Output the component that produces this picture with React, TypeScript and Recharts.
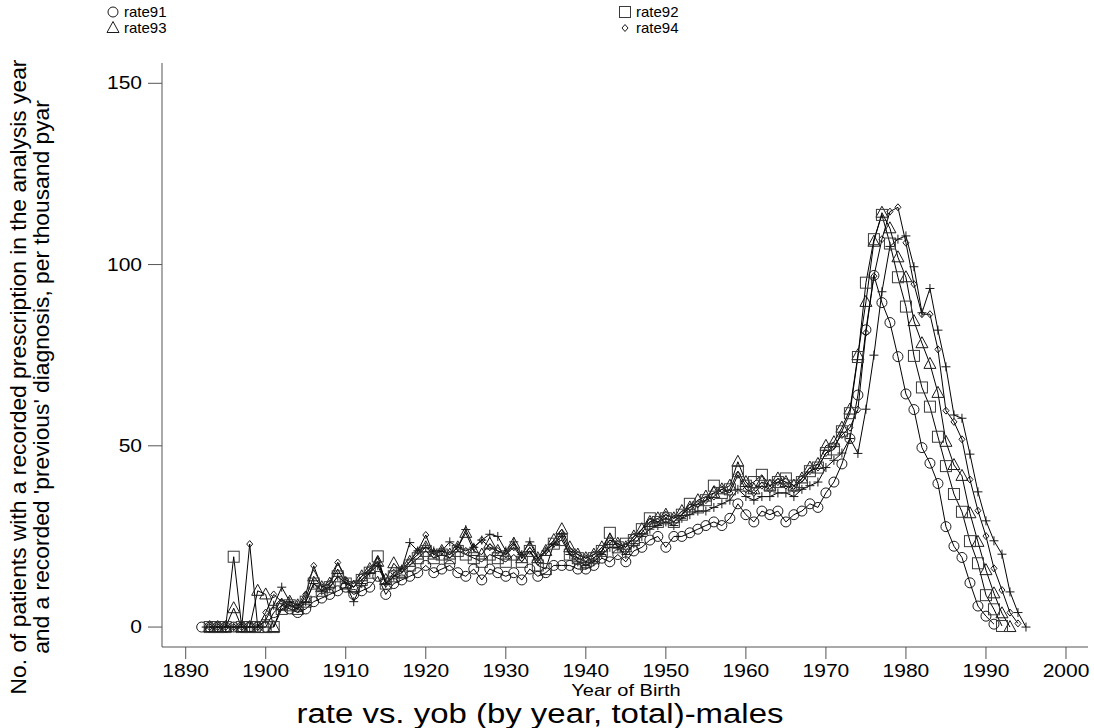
import React from 'react';
import { LineChart, Line, XAxis, YAxis } from 'recharts';

// years of birth covered by the series
const firstYear = 1892;
const years = Array.from({ length: 104 }, (_, i) => firstYear + i);

// values per year, 1892..1995 (null = no point)
const rate91 = [
  0, 0, 0, 0, 0, 0, 0, 0,
  0, 4, 6, 5, 4, 5, 7, 8, 9, 10,
  11, 9, 10, 11, 14, 9, 12, 13, 14, 15,
  17, 15, 16, 17, 15, 14, 16, 13, 16, 15,
  14, 15, 13, 16, 14, 15, 17, 17, 17, 16,
  16, 17, 19, 18, 20, 18, 21, 22, 24, 25,
  22, 25, 25, 26, 27, 28, 29, 28, 30, 34,
  31, 29, 32, 31, 32, 29, 31, 32, 34, 33,
  37, 40, 45, 52, 64, 82, 97, 89.5, 84, 74.6,
  64.3, 60, 49.5, 45.2, 39.6, 27.7, 22.3, 19.2, 12.2, 5.8,
  3, 0.8, null, null, null, null,
];

const rate92 = [
  null, 0, 0, 0, 19.4, 0, 0, 0,
  0, 0, 5, 6, 5, 7, 12, 10, 11, 14,
  12, 11, 13, 15, 19.5, 12, 14, 15, 17, 19,
  21, 19, 20, 19, 21, 20, 19, 18, 20, 19,
  18, 20, 18, 21, 17, 16, 23, 24, 20, 19,
  18, 19, 21, 26, 22, 23, 24, 27, 30, 29,
  30, 29, 31, 34, 33, 35, 39, 37, 38, 43,
  39, 40, 42, 39, 40, 41, 39, 40, 43, 44,
  48, 49, 54, 59, 74.5, 95, 107, 113.7, 105.8, 96.5,
  88.4, 74.8, 66.1, 60.8, 52.5, 44.4, 36.7, 31.8, 23.7, 17.6,
  8.8, 4.9, 0.3, null, null, null,
];

const rate93 = [
  null, 0, 0, 0, 5.2, 0, 0, 10,
  9, 0, 6, 7, 6, 8, 14, 11, 12, 16,
  12, 11, 14, 16, 18, 13, 17.6, 15, 18, 20,
  22, 20, 21, 20, 22, 26, 21, 20, 23, 21,
  20, 23, 19, 22, 19, 21, 24, 27, 22, 20,
  19, 20, 22, 24, 23, 22, 25, 27, 29, 30,
  31, 30, 32, 33, 35, 36, 37, 38, 39, 45.6,
  40, 38, 40, 39, 41, 40, 39, 41, 44, 45,
  50, 51, 55, 60, 75, 89.7, 106.3, 114.3, 110, 102,
  96.5, 84.4, 78.3, 72.6, 64.6, 51.1, 44.7, 41.7, 31.4, 23.5,
  15.7, 9.3, 3.8, 0, null, null,
];

const rate94 = [
  null, 0, 0, 0, 0, 0, 22.9, 0,
  4, 9, 7, 6, 5, 9, 16.9, 11, 12, 17.8,
  13, 12, 14, 16, 18, 12, 15, 16, 18, 21,
  25.4, 20, 21, 20, 22, 21, 22, 24, 22, 21,
  20, 22, 19, 21, 18, 21, 23, 26, 21, 20,
  19, 20, 21, 24, 23, 22, 25, 26, 29, 29,
  31, 30, 31, 33, 34, 35, 36, 38, 37, 42,
  38, 37, 39, 38, 40, 39, 38, 41, 43, 44,
  48, 50, 53, 55, 60, 81.2, 96.8, 107, 114.6, 115.8,
  106, 94.6, 86.3, 86.3, 76.6, 59.7, 56.6, 51.8, 40.7, 32.1,
  25.1, 16.2, 10.2, 4, 1, null,
];

const rate95 = [
  null, 0, 0, 0, 0, 0, 0, 0,
  2, 6, 11, 7, 6, 7, 12, 10, 11, 14,
  12, 7, 12, 15, 17, 12, 14, 16, 23.3, 21,
  22, 21, 21, 23.5, 22, 26.9, 22, 24, 25.6, 25,
  21, 23.5, 20, 23.5, 19, 21, 23, 25, 20, 18,
  17, 18, 20, 22, 22, 20, 23, 25, 27, 28,
  29, 28, 30, 31, 32, 32, 33, 34, 35, 38,
  36, 35, 36, 36, 37, 37, 36, 38, 39, 40,
  44, 46, 48, 52, 47.9, 60.1, 75, 92.5, 105, 107,
  107.9, 99.4, 86.7, 93.4, 81.9, 71.8, 58.5, 57.6, 47.7, 37.3,
  29.3, 23.8, 20.1, 9.7, 4, 0,
];

const xTicks = [1890, 1900, 1910, 1920, 1930, 1940, 1950, 1960, 1970, 1980, 1990, 2000];
const yTicks = [0, 50, 100, 150];

const data = years.map((year, i) => ({
  year,
  rate91: rate91[i],
  rate92: rate92[i],
  rate93: rate93[i],
  rate94: rate94[i],
  rate95: rate95[i],
}));

const FONT = '"Liberation Sans", Arial, sans-serif';
const INK = '#1a1a1a';

type Shape = 'circle' | 'square' | 'triangle' | 'diamond' | 'plus';

const marker = (shape: Shape, cx: number, cy: number, key?: string) => {
  switch (shape) {
    case 'circle':
      return <circle key={key} cx={cx} cy={cy} r={5} fill="none" stroke={INK} strokeWidth={1} />;
    case 'square':
      return <rect key={key} x={cx - 5.5} y={cy - 5.5} width={11} height={11} fill="none" stroke="#3a3a3a" strokeWidth={1} />;
    case 'triangle':
      return (
        <polygon key={key} points={`${cx},${cy - 6.5} ${cx - 6},${cy + 4.5} ${cx + 6},${cy + 4.5}`}
          fill="none" stroke={INK} strokeWidth={1} />
      );
    case 'diamond':
      return (
        <polygon key={key} points={`${cx},${cy - 3.5} ${cx + 3},${cy} ${cx},${cy + 3.5} ${cx - 3},${cy}`}
          fill="none" stroke={INK} strokeWidth={1} />
      );
    default:
      return (
        <path key={key} d={`M${cx - 4.5},${cy}H${cx + 4.5}M${cx},${cy - 4.5}V${cy + 4.5}`}
          stroke={INK} strokeWidth={1} fill="none" />
      );
  }
};

const makeDot = (shape: Shape) => (props: any) => {
  const { cx, cy, value, index } = props;
  if (value == null || cx == null || cy == null || Number.isNaN(cy)) return <g key={`n${shape}${index}`} />;
  return marker(shape, cx, cy, `${shape}${index}`);
};

const XTick = (props: any) => {
  const { x, payload } = props;
  return (
    <text transform={`translate(${x},677) scale(1.2,1)`} textAnchor="middle"
      fontSize={17.5} fontFamily={FONT} fill="#000">
      {payload.value}
    </text>
  );
};

const YTick = (props: any) => {
  const { y, payload } = props;
  return (
    <text transform={`translate(142,${y + 6}) scale(1.2,1)`} textAnchor="end"
      fontSize={17.5} fontFamily={FONT} fill="#000">
      {payload.value}
    </text>
  );
};

const series: { key: string; shape: Shape }[] = [
  { key: 'rate95', shape: 'plus' },
  { key: 'rate94', shape: 'diamond' },
  { key: 'rate93', shape: 'triangle' },
  { key: 'rate92', shape: 'square' },
  { key: 'rate91', shape: 'circle' },
];

const legendItems: { label: string; shape: Shape; left: number; top: number }[] = [
  { label: 'rate91', shape: 'circle', left: 106, top: 4 },
  { label: 'rate92', shape: 'square', left: 618, top: 4 },
  { label: 'rate93', shape: 'triangle', left: 106, top: 20 },
  { label: 'rate94', shape: 'diamond', left: 618, top: 20 },
];

const abs = (left: number, top: number): React.CSSProperties => ({
  position: 'absolute', left, top, whiteSpace: 'nowrap', fontFamily: FONT, color: '#000', lineHeight: 1,
});

export default function App() {
  return (
    <div style={{ position: 'absolute', left: 0, top: 0, width: 1094, height: 728, background: '#fff' }}>
      <LineChart width={1094} height={728} data={data}
        margin={{ top: 63, right: 6, bottom: 51, left: 0 }}>
        <XAxis dataKey="year" type="number" domain={[1887.04, 2002.75]} ticks={xTicks}
          allowDataOverflow height={30} tickSize={12} tick={<XTick />}
          axisLine={{ stroke: '#555' }} tickLine={{ stroke: '#555' }} />
        <YAxis type="number" domain={[-5.5, 155.6]} ticks={yTicks} allowDataOverflow
          width={162} tickSize={14} tick={<YTick />}
          axisLine={{ stroke: '#555' }} tickLine={{ stroke: '#555' }} />
        {series.map(s => (
          <Line key={s.key} dataKey={s.key} type="linear" stroke="#000" strokeWidth={1}
            dot={makeDot(s.shape)} activeDot={false} isAnimationActive={false} connectNulls={false} />
        ))}
      </LineChart>

      {legendItems.map(item => (
        <div key={item.label} style={{ ...abs(item.left, item.top), display: 'flex', alignItems: 'center', fontSize: 15 }}>
          <svg width={14} height={14} style={{ marginRight: 4 }}>
            {marker(item.shape, 7, 7)}
          </svg>
          <span>{item.label}</span>
        </div>
      ))}

      <div style={{ ...abs(18, 377), fontSize: 22.8, transform: 'translate(-50%, -50%) rotate(-90deg)' }}>
        No. of patients with a recorded prescription in the analysis year
      </div>
      <div style={{ ...abs(41, 377), fontSize: 22.8, transform: 'translate(-50%, -50%) rotate(-90deg)' }}>
        and a recorded 'previous' diagnosis, per thousand pyar
      </div>

      <div style={{ ...abs(626, 690), fontSize: 16, lineHeight: '13px', transform: 'translate(-50%, -50%) scaleX(1.25)' }}>
        Year of Birth
      </div>
      <div style={{ ...abs(540, 714), fontSize: 27, lineHeight: '21px', transform: 'translate(-50%, -50%) scaleX(1.22)' }}>
        rate vs. yob (by year, total)-males
      </div>
    </div>
  );
}
